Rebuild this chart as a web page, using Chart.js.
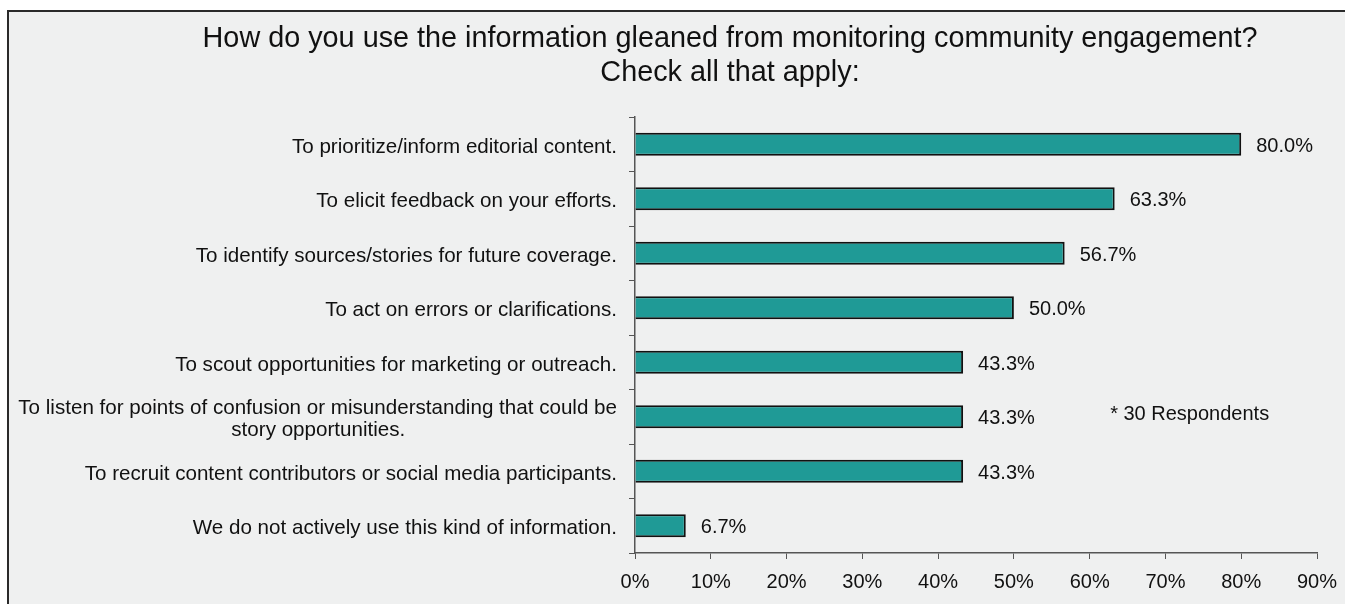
<!DOCTYPE html>
<html>
<head>
<meta charset="utf-8">
<script src="https://cdn.jsdelivr.net/npm/chart.js@4/dist/chart.umd.min.js"></script>
<style>
html,body{margin:0;padding:0;background:#fff;}
#wrap{width:1345px;height:604px;position:relative;}
</style>
</head>
<body>
<div id="wrap"><canvas id="c" width="1345" height="604"></canvas></div>
<script>
const titleLines = ["How do you use the information gleaned from monitoring community engagement?", "Check all that apply:"];
const categories = [
  "To prioritize/inform editorial content.",
  "To elicit feedback on your efforts.",
  "To identify sources/stories for future coverage.",
  "To act on errors or clarifications.",
  "To scout opportunities for marketing or outreach.",
  ["To listen for points of confusion or misunderstanding that could be", "story opportunities."],
  "To recruit content contributors or social media participants.",
  "We do not actively use this kind of information."
];
const values = [80.0, 63.3, 56.7, 50.0, 43.3, 43.3, 43.3, 6.7];
const xTicks = [0, 10, 20, 30, 40, 50, 60, 70, 80, 90];
const note = "* 30 Respondents";

const FONT = "'Liberation Sans', Arial, sans-serif";
const LABEL_FONT = "20.6px " + FONT;

// center lines of multi-line labels relative to the longest line (right-aligned overall)
const measureCtx = document.createElement('canvas').getContext('2d');
function centerLines(label) {
  if (!Array.isArray(label)) return label;
  measureCtx.font = LABEL_FONT;
  const widths = label.map(l => measureCtx.measureText(l).width);
  const maxW = Math.max(...widths);
  const sp = measureCtx.measureText(' ').width;
  return label.map((l, i) => l + ' '.repeat(Math.max(0, Math.round((maxW - widths[i]) / 2 / sp))));
}

const framePlugin = {
  id: 'frame',
  beforeDraw(chart) {
    const ctx = chart.ctx;
    ctx.save();
    ctx.fillStyle = '#ffffff';
    ctx.fillRect(0, 0, chart.width, chart.height);
    ctx.fillStyle = '#eff0f0';
    ctx.fillRect(8, 11, chart.width, chart.height);
    ctx.strokeStyle = '#2a2a2a';
    ctx.lineWidth = 2;
    ctx.beginPath();
    ctx.moveTo(8, chart.height + 5);
    ctx.lineTo(8, 11);
    ctx.lineTo(chart.width + 5, 11);
    ctx.stroke();
    ctx.restore();
  },
  afterDraw(chart) {
    const ctx = chart.ctx;
    ctx.save();
    ctx.fillStyle = '#111111';
    ctx.textAlign = 'center';
    ctx.textBaseline = 'middle';
    ctx.font = "28.8px " + FONT;
    ctx.fillText(titleLines[0], 730, 39);
    ctx.fillText(titleLines[1], 730, 73);
    // data labels
    ctx.font = "20px " + FONT;
    ctx.textAlign = 'left';
    const meta = chart.getDatasetMeta(0);
    meta.data.forEach((bar, i) => {
      ctx.fillText(values[i].toFixed(1) + '%', bar.x + 15, bar.y + 2);
    });
    // note
    const xs = chart.scales.x, ys = chart.scales.y;
    ctx.fillText(note, xs.getPixelForValue(62.7), ys.getPixelForValue(5) - 2);
    ctx.restore();
  }
};

new Chart(document.getElementById('c'), {
  type: 'bar',
  data: {
    labels: categories,
    datasets: [{
      data: values,
      backgroundColor: '#1f9a96',
      borderColor: '#111111',
      borderWidth: 2,
      barPercentage: 0.42,
      categoryPercentage: 1.0
    }]
  },
  options: {
    indexAxis: 'y',
    responsive: false,
    animation: false,
    layout: { padding: { top: 117, right: 28, bottom: 0, left: 0 } },
    plugins: { legend: { display: false }, tooltip: { enabled: false }, title: { display: false } },
    scales: {
      x: {
        min: 0, max: 90,
        afterBuildTicks(scale) { scale.ticks = xTicks.map(v => ({ value: v })); },
        afterFit(scale) { scale.height = 51; scale.paddingLeft = 0; scale.paddingRight = 0; },
        grid: { drawOnChartArea: false, drawTicks: true, tickLength: 6, color: '#555555' },
        border: { display: true, color: '#555555', width: 1.5 },
        ticks: { color: '#111111', font: { family: FONT, size: 20 }, padding: 11, callback: v => v + '%', maxRotation: 0 }
      },
      y: {
        afterFit(scale) { scale.width = 635; scale.paddingTop = 0; scale.paddingBottom = 0; },
        grid: { drawOnChartArea: false, drawTicks: true, tickLength: 6, offset: true, color: '#555555' },
        border: { display: true, color: '#555555', width: 1.5 },
        ticks: {
          color: '#111111', font: { family: FONT, size: 20.6, lineHeight: 1.07 }, padding: 12, autoSkip: false,
          labelOffset: 3,
          callback: function (v, i) { return centerLines(categories[i]); }
        }
      }
    }
  },
  plugins: [framePlugin]
});
</script>
</body>
</html>
